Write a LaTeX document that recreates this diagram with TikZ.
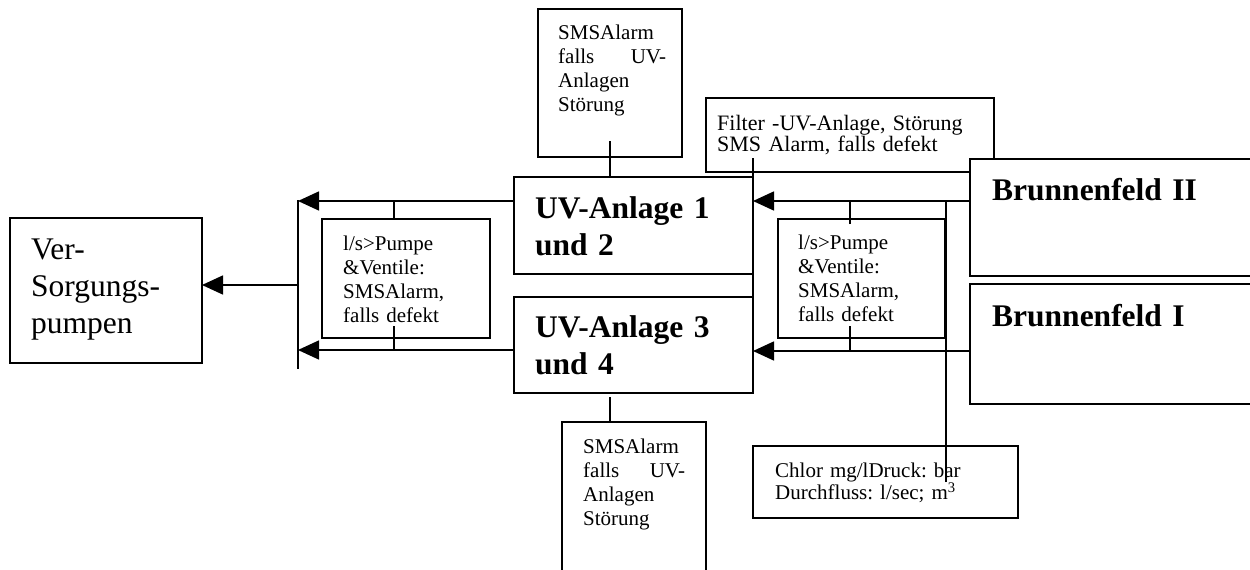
\documentclass[tikz,border=0pt]{standalone}
\usepackage{fontspec}
\setmainfont{Liberation Serif}
\usetikzlibrary{arrows.meta}
\begin{document}
\begin{tikzpicture}[x=1pt,y=-1pt,
  box/.style={draw, line width=1.6pt, fill=white, inner sep=0pt, outer sep=0pt, anchor=north west},
  conn/.style={line width=1.6pt},
  arr/.style={line width=1.6pt, -{Triangle[length=21pt,width=19pt]}},
  bigtxt/.style={font=\fontsize{31.5}{37}\selectfont\bfseries\frenchspacing, anchor=base west, inner sep=0pt, text width=230pt},
  vtxt/.style={font=\fontsize{31.5}{37}\selectfont\frenchspacing, anchor=base west, inner sep=0pt, text width=170pt},
  smalltxt/.style={font=\fontsize{21}{24}\selectfont\frenchspacing, anchor=base west, inner sep=0pt},
  tighttxt/.style={font=\fontsize{21}{20.5}\selectfont\frenchspacing, anchor=base west, inner sep=0pt}
]
\useasboundingbox (0,0) rectangle (1250,570);

% boxes
\node[box, minimum width=192pt, minimum height=145pt] (vers) at (10,218) {};
\node[box, minimum width=168pt, minimum height=119pt] (lsl) at (322,219) {};
\node[box, minimum width=239pt, minimum height=97pt] (uva) at (514,177) {};
\node[box, minimum width=239pt, minimum height=96pt] (uvb) at (514,297) {};
\node[box, minimum width=144pt, minimum height=148pt] (smst) at (538,9) {};
\node[box, minimum width=144pt, minimum height=160pt] (smsb) at (562,422) {};
\node[box, minimum width=288pt, minimum height=74pt] (filt) at (706,98) {};
\node[box, minimum width=167pt, minimum height=119pt] (lsr) at (778,219) {};
\node[box, minimum width=290pt, minimum height=117pt] (bf2) at (970,159) {};
\node[box, minimum width=290pt, minimum height=120pt] (bf1) at (970,284) {};
\node[box, minimum width=265pt, minimum height=72pt] (chlor) at (753,446) {};

% texts
\node[vtxt] (verst) at (31,259) {Ver-\\Sorgungs-\\pumpen};
\node[bigtxt] (uvat) at (535,218) {UV-Anlage 1\\und 2};
\node[bigtxt] (uvbt) at (535,337) {UV-Anlage 3\\und 4};
\node[bigtxt] (bf2t) at (992,200) {Brunnenfeld II};
\node[bigtxt] (bf1t) at (992,326) {Brunnenfeld I};
\node[smalltxt, text width=140pt] (lslt) at (343,250) {l/s>Pumpe\\\&Ventile:\\SMSAlarm,\\falls defekt};
\node[smalltxt, text width=140pt] (lsrt) at (798,249) {l/s>Pumpe\\\&Ventile:\\SMSAlarm,\\falls defekt};
\node[smalltxt, text width=108pt] (smstt) at (558,39) {SMSAlarm\\falls\hfill UV-\\Anlagen\\Störung};
\node[smalltxt, text width=102pt] (smsbt) at (583,453) {SMSAlarm\\falls\hfill UV-\\Anlagen\\Störung};
\node[tighttxt, font=\fontsize{22}{21}\selectfont\frenchspacing, text width=270pt] (filtt) at (717,130) {Filter -UV-Anlage, Störung\\SMS Alarm, falls defekt};
\node[tighttxt, text width=240pt] (chlort) at (775,477) {Chlor mg/lDruck: bar\\Durchfluss: l/sec; m\textsuperscript{3}};

% left bus
\coordinate (busT) at (298,200);
\coordinate (busE) at (298,369);
\coordinate (busM) at (298,285);
\coordinate (busU) at (298,201);
\coordinate (busL) at (298,350);
\draw[conn] (busT) -- (busE);
\draw[arr] (busM) -- (busM -| vers.east);
\draw[arr] (uva.west |- busU) -- (busU);
\draw[arr] (uvb.west |- busL) -- (busL);
\draw[conn] ([xshift=-12pt]lsl.north) -- ++(0,-18);
\draw[conn] ([xshift=-12pt,yshift=12pt]lsl.south) -- ++(0,24);

% SMS ticks
\draw[conn] ([yshift=16pt]smst.south) -- (smst.south |- uva.north);
\draw[conn] ([xshift=-24pt]smsb.north) -- ++(0,-25);

% filter tick and right edge line
\draw[conn] ([yshift=19pt]uva.north east) -- (uvb.south east);

% right arrows
\draw[arr] ([yshift=16.5pt]bf2.west) coordinate (r1) -- (r1 -| uva.east);
\draw[arr] ([yshift=-7pt]bf1.west) coordinate (r2) -- (r2 -| uvb.east);
\draw[conn] ([xshift=-11.5pt,yshift=-5pt]lsr.north) -- ++(0,-23);
\draw[conn] ([xshift=-11.5pt,yshift=12pt]lsr.south) -- ++(0,25);

% chlor line
\draw[conn] ([xshift=60.5pt,yshift=-36pt]chlor.north) coordinate (c1) -- (c1 |- r1);
\end{tikzpicture}
\end{document}
